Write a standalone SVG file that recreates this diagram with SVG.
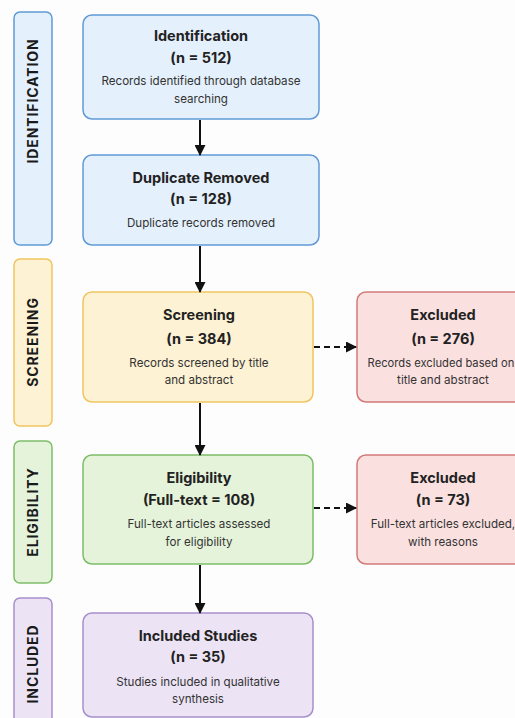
<svg xmlns="http://www.w3.org/2000/svg" width="515" height="718" viewBox="0 0 515 718">
<defs>
<marker id="ah" markerWidth="11" markerHeight="11" refX="10" refY="5.5" orient="auto" markerUnits="userSpaceOnUse">
<path d="M0,0 L11,5.5 L0,11 Z" fill="#111"/>
</marker>
<style>
.t{font-family:Inter,"Liberation Sans",sans-serif;font-weight:700;font-size:14.5px;fill:#222;text-anchor:middle}
.d{font-family:Inter,"Liberation Sans",sans-serif;font-size:11.6px;fill:#333;text-anchor:middle}
.s{font-family:Inter,"Liberation Sans",sans-serif;font-weight:700;font-size:14px;letter-spacing:0.9px;fill:#1a1a1a;text-anchor:middle}
.blue{fill:#e4f0fb;stroke:#5f9ad6;stroke-width:1.5}
.yel{fill:#fdf2d3;stroke:#f0c55e;stroke-width:1.5}
.red{fill:#fbe0e0;stroke:#d27a7a;stroke-width:1.5}
.grn{fill:#e5f3da;stroke:#7dbd68;stroke-width:1.5}
.pur{fill:#ece4f5;stroke:#a68fcb;stroke-width:1.5}
.c{stroke:#111;stroke-width:2;fill:none;marker-end:url(#ah)}
.dash{stroke-dasharray:6,4}
</style>
</defs>
<rect width="515" height="718" fill="#fdfdfd"/>
<g id="phase-identification"><rect class="blue" x="14" y="12" width="38" height="233" rx="6"/><text class="s" transform="translate(38,101) rotate(-90)">IDENTIFICATION</text></g>
<g id="phase-screening"><rect class="yel" x="14" y="259" width="38" height="167" rx="6"/><text class="s" transform="translate(38,342) rotate(-90)">SCREENING</text></g>
<g id="phase-eligibility"><rect class="grn" x="14" y="441" width="38" height="142" rx="6"/><text class="s" transform="translate(38,512) rotate(-90)">ELIGIBILITY</text></g>
<g id="phase-included"><rect class="pur" x="14" y="598" width="38" height="135" rx="6"/><text class="s" transform="translate(38,664) rotate(-90)">INCLUDED</text></g>

<g id="identification"><rect class="blue" x="83" y="15" width="236" height="104" rx="9"/>
<text class="t" x="201" y="41">Identification</text><text class="t" x="201" y="63">(n = 512)</text>
<text class="d" x="201" y="85">Records identified through database</text><text class="d" x="201" y="103">searching</text></g>
<g id="duplicate"><rect class="blue" x="83" y="155" width="236" height="90" rx="9"/>
<text class="t" x="201" y="183">Duplicate Removed</text><text class="t" x="201" y="204">(n = 128)</text>
<text class="d" x="201" y="227">Duplicate records removed</text></g>
<g id="screening"><rect class="yel" x="83" y="292" width="230" height="110" rx="9"/>
<text class="t" x="199" y="320">Screening</text><text class="t" x="199" y="344">(n = 384)</text>
<text class="d" x="199" y="367">Records screened by title</text><text class="d" x="199" y="384">and abstract</text></g>
<g id="excluded1"><rect class="red" x="357" y="292" width="172" height="110" rx="9"/>
<text class="t" x="443" y="320">Excluded</text><text class="t" x="443" y="344">(n = 276)</text>
<text class="d" x="441" y="367" style="font-size:11.2px">Records excluded based on</text><text class="d" x="443" y="384">title and abstract</text></g>
<g id="eligibility"><rect class="grn" x="83" y="455" width="230" height="109" rx="9"/>
<text class="t" x="199" y="483">Eligibility</text><text class="t" x="199" y="505">(Full-text = 108)</text>
<text class="d" x="199" y="528">Full-text articles assessed</text><text class="d" x="199" y="546">for eligibility</text></g>
<g id="excluded2"><rect class="red" x="357" y="455" width="172" height="109" rx="9"/>
<text class="t" x="443" y="483">Excluded</text><text class="t" x="443" y="505">(n = 73)</text>
<text class="d" x="443" y="528">Full-text articles excluded,</text><text class="d" x="443" y="546">with reasons</text></g>
<g id="included"><rect class="pur" x="83" y="613" width="230" height="104" rx="9"/>
<text class="t" x="198" y="641">Included Studies</text><text class="t" x="198" y="662">(n = 35)</text>
<text class="d" x="198" y="686">Studies included in qualitative</text><text class="d" x="198" y="703">synthesis</text></g>

<g id="connectors">
<line class="c" x1="200" y1="120" x2="200" y2="155"/>
<line class="c" x1="200" y1="246" x2="200" y2="292"/>
<line class="c" x1="200" y1="403" x2="200" y2="455"/>
<line class="c" x1="200" y1="565" x2="200" y2="613"/>
<line class="c dash" x1="314" y1="347" x2="356" y2="347"/>
<line class="c dash" x1="314" y1="508" x2="356" y2="508"/>
</g>
</svg>
